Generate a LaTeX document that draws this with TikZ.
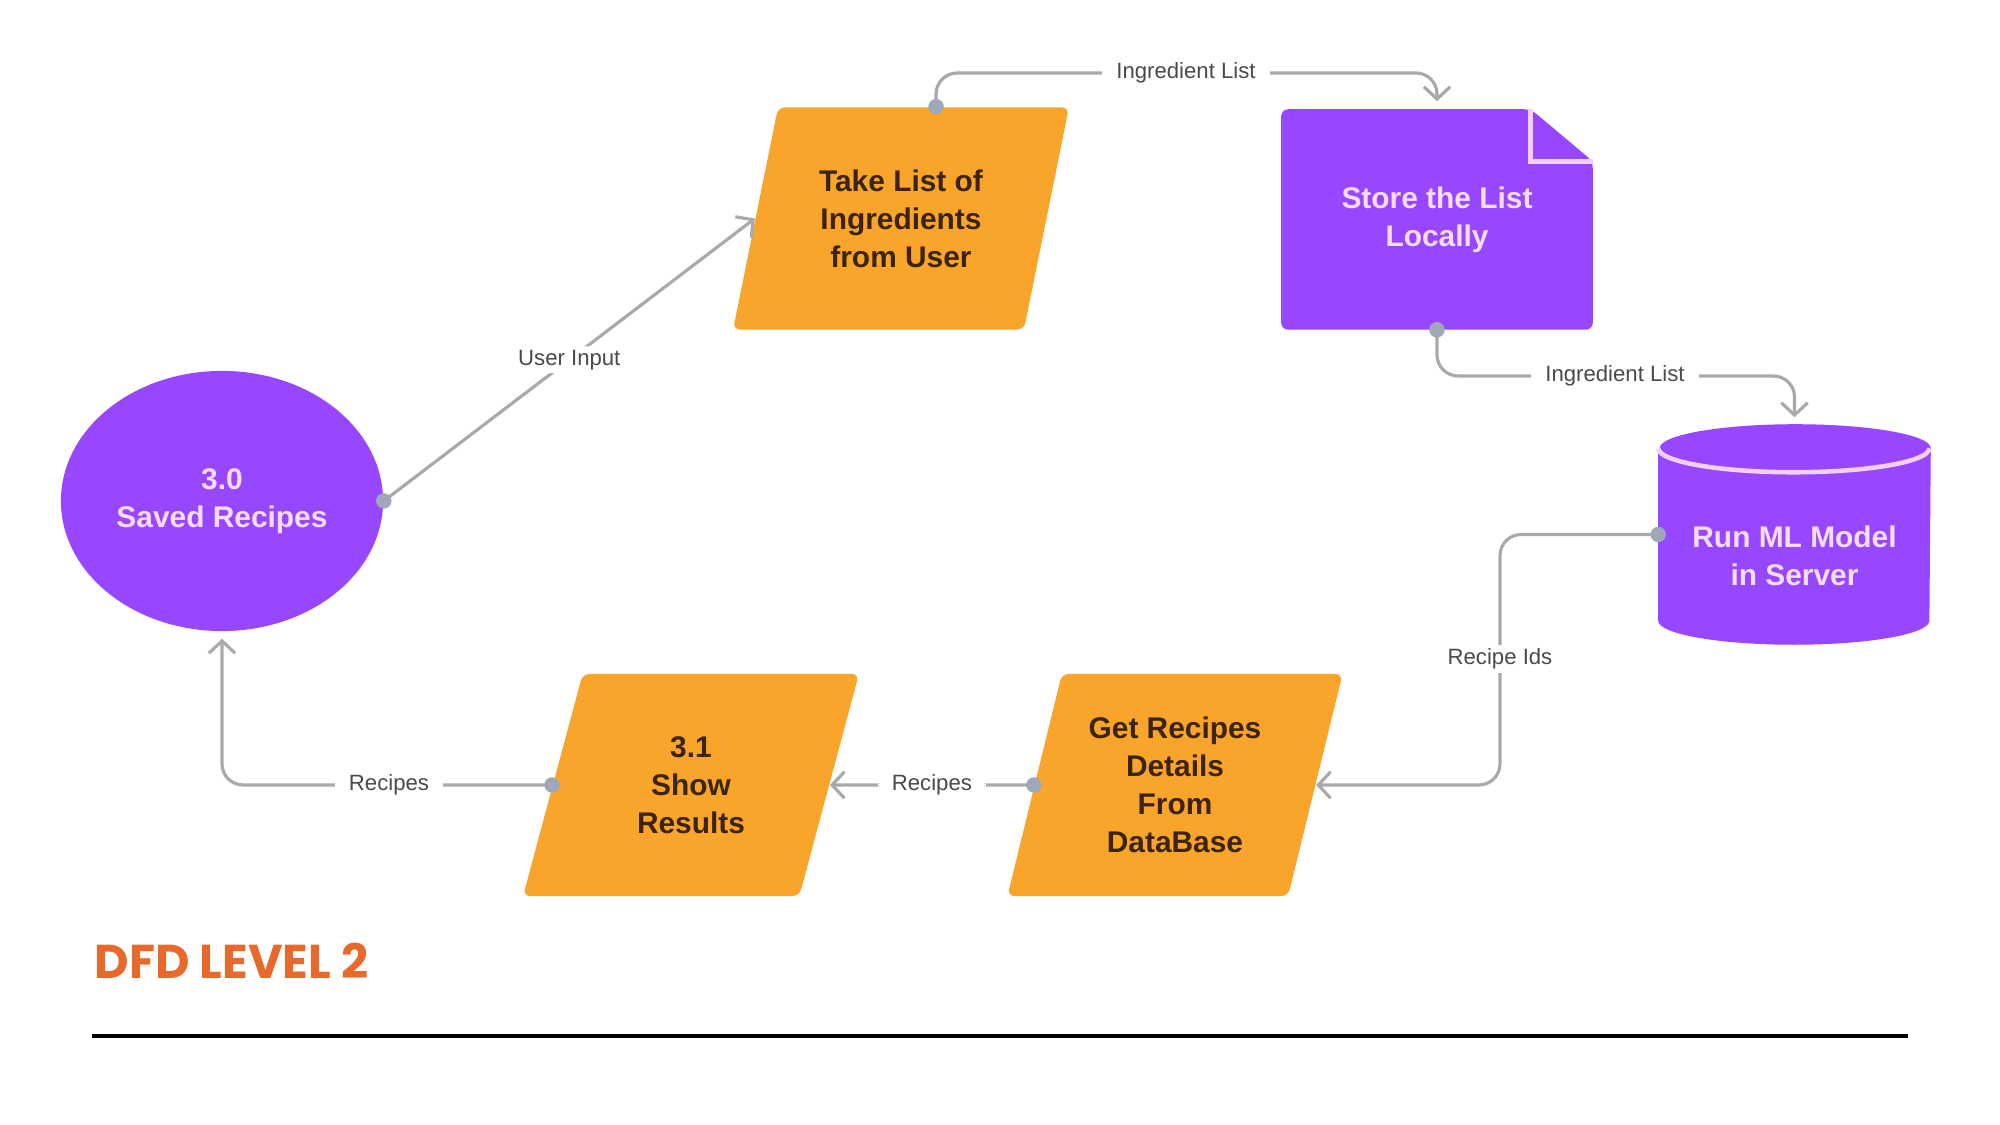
\documentclass[tikz,border=0pt]{standalone}
\usepackage{fontspec}
\setmainfont{Liberation Sans}
\newfontfamily\titlefont{Poppins}
\usetikzlibrary{shapes.geometric,arrows.meta,backgrounds}

\definecolor{procorange}{HTML}{F9A52C}
\definecolor{storepurple}{HTML}{9747FF}
\definecolor{proctext}{HTML}{3B2409}
\definecolor{storetext}{HTML}{F5DDFA}
\definecolor{rimpink}{HTML}{F3CFF5}
\definecolor{flowgray}{HTML}{A9A9A9}
\definecolor{dotblue}{HTML}{9EA8B6}
\definecolor{labelgray}{HTML}{4A4A4A}
\definecolor{titleorange}{HTML}{E8692C}

\tikzset{
  shapefont/.style={font=\fontsize{8.5}{10.8}\selectfont\bfseries},
  proc/.style={trapezium, trapezium left angle=73, trapezium right angle=107,
    trapezium stretches=true, fill=procorange, rounded corners=2pt,
    minimum width=3.36cm, minimum height=2.22cm, inner sep=0pt,
    align=center, text=proctext, shapefont},
  purpletext/.style={align=center, text=storetext, shapefont, inner sep=0pt},
  flow/.style={draw=flowgray, line width=0.9pt, rounded corners=6pt,
    -{Straight Barb[length=3.5pt,width=7.5pt]}},
  lbl/.style={fill=white, text=labelgray, inner xsep=4pt, inner ysep=1pt,
    font=\fontsize{6.3}{7.5}\selectfont},
  startdot/.style={fill=dotblue},
}

\begin{document}
\begin{tikzpicture}[x=0.01cm,y=0.01cm]
\useasboundingbox (0,0) rectangle (2000,1125);

% processes and stores
\node[ellipse, fill=storepurple, minimum width=3.22cm, minimum height=2.6cm,
      purpletext] (saved) at (222,624) {3.0\\Saved Recipes};
\node[proc] (take) at (901,906.5) {Take List of\\Ingredients\\from User};
\node[minimum width=3.10cm, minimum height=2.19cm, inner sep=0pt] (store) at (1437,905.5) {};
\node[purpletext] (storelabel) at (store) {Store the List\\Locally};
\node[minimum width=2.71cm, minimum height=2.19cm, inner sep=0pt] (ml) at (1794.5,590.5) {};
\node[purpletext] (mllabel) at (1794.5,569) {Run ML Model\\in Server};
\node[proc] (get) at (1175,340) {Get Recipes\\Details\\From\\DataBase};
\node[proc] (show) at (691,340) {3.1\\Show\\Results};

\begin{scope}[on background layer]
  % document with folded corner
  \fill[storepurple, rounded corners=2pt]
    (store.south west) -- (store.north west) -- ([xshift=-0.62cm]store.north east)
    -- ([yshift=-0.52cm]store.north east) -- (store.south east) -- cycle;
  \draw[rimpink, line width=1.3pt]
    ([xshift=-0.62cm]store.north east) -- ([xshift=-0.62cm,yshift=-0.52cm]store.north east)
    -- ([yshift=-0.52cm]store.north east);
  % cylinder
  \fill[storepurple]
    ([yshift=-0.24cm]ml.north west) -- ([yshift=0.24cm]ml.south west)
    arc[start angle=180, end angle=360, x radius=1.355cm, y radius=0.24cm]
    -- ([yshift=-0.24cm]ml.north east)
    arc[start angle=0, end angle=180, x radius=1.355cm, y radius=0.24cm] -- cycle;
  \draw[rimpink, line width=1.3pt] ([yshift=-0.24cm]ml.north west)
    arc[start angle=180, end angle=360, x radius=1.355cm, y radius=0.24cm];
\end{scope}

% midpoint of the top edge of the slanted input box
\coordinate (taketop) at ([xshift=0.35cm]take.north);

% label positions on the bent flows
\coordinate (k2) at (1186,1052);
\coordinate (k3) at (1615,749);
\coordinate (k4) at (1500,466);
\coordinate (k6) at (389,340);

% data flows
\draw[flow] (saved.east) -- node[lbl] (l1) {User Input} (take.west);
\draw[flow] (taketop) |- (k2) -| ([yshift=0.08cm]store.north);
\draw[flow] (store.south) |- (k3) -| ([yshift=0.07cm]ml.north);
\draw[flow] (ml.west) -| (k4) |- (get.east);
\draw[flow] (get.west) -- node[lbl] (l5) {Recipes} (show.east);
\draw[flow] (show.west) -- (k6) -| ([yshift=-0.07cm]saved.south);

\node[lbl] (l2) at (k2) {Ingredient List};
\node[lbl] (l3) at (k3) {Ingredient List};
\node[lbl] (l4) at (k4) {Recipe Ids};
\node[lbl] (l6) at (k6) {Recipes};

% flow start points
\fill[startdot] (saved.east) circle[radius=2.2pt];
\fill[startdot] (taketop) circle[radius=2.2pt];
\fill[startdot] (store.south) circle[radius=2.2pt];
\fill[startdot] (ml.west) circle[radius=2.2pt];
\fill[startdot] (get.west) circle[radius=2.2pt];
\fill[startdot] (show.west) circle[radius=2.2pt];

% heading and rule
\node[anchor=base west, inner sep=0pt, text=titleorange,
      font=\titlefont\bfseries\fontsize{13.5}{16}\selectfont] (title) at (94,146) {DFD LEVEL 2};
\coordinate (ruleL) at (92,89);
\coordinate (ruleR) at (1908,89);
\draw[line width=1.2pt] (ruleL) -- (ruleR);
\end{tikzpicture}
\end{document}
